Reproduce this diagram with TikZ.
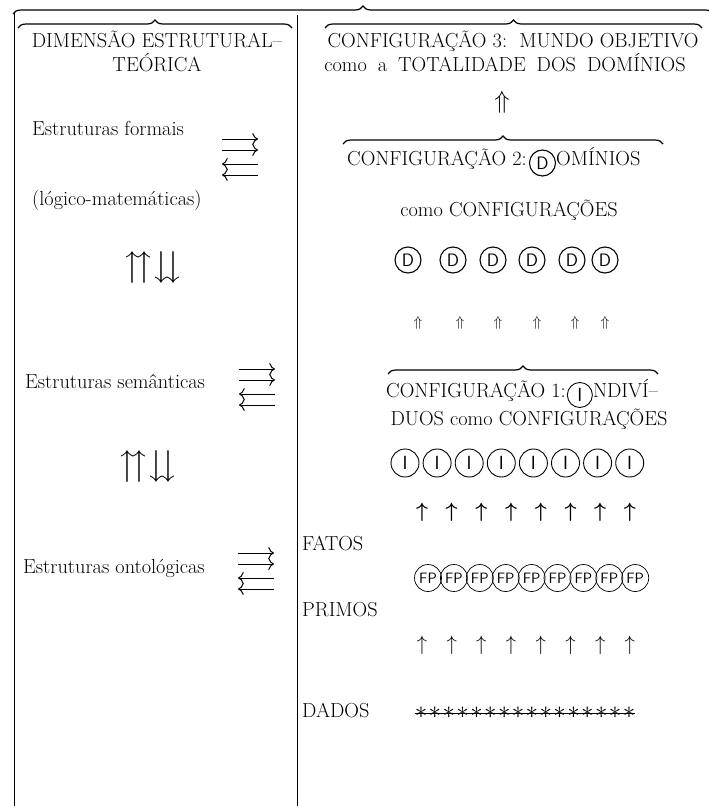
\documentclass[tikz,border=0pt]{standalone}
\usepackage{fontspec}
\usepackage{amsmath,amssymb}
\usetikzlibrary{decorations.pathreplacing,arrows.meta}

\begin{document}
\begin{tikzpicture}[x=1pt,y=-1pt,
  txt/.style={inner sep=0pt, font=\fontsize{20.3}{24}\selectfont, text height=14pt, text depth=4.5pt},
  lbl/.style={txt, anchor=west},
  bigsym/.style={inner sep=0pt, font=\fontsize{36}{36}\selectfont},
  pairarr/.style={line width=1pt, arrows={-Computer Modern Rightarrow[scale=1.5]}},
  ring/.style={circle, draw, line width=0.9pt, inner sep=0pt, minimum size=#1},
  dring/.style={ring=26pt, line width=1.1pt, font=\fontsize{18}{18}\selectfont\sffamily},
  iring/.style={ring=28pt, font=\fontsize{19}{19}\selectfont\sffamily},
  fpring/.style={ring=27pt, line width=0.7pt, font=\fontsize{15}{15}\selectfont\sffamily},
  brc/.style={decorate, decoration={brace, amplitude=8pt}, line width=1.2pt},
  frame/.style={line width=0.7pt},
  % two arrows to the right above two arrows to the left
  arrpair/.pic={
    \coordinate (-l1) at (-18,-18); \coordinate (-r1) at (18,-18);
    \coordinate (-l2) at (-18,-7);  \coordinate (-r2) at (18,-7);
    \coordinate (-l3) at (-18,7);   \coordinate (-r3) at (18,7);
    \coordinate (-l4) at (-18,18);  \coordinate (-r4) at (18,18);
    \draw[pairarr] (-l1) -- (-r1);
    \draw[pairarr] (-l2) -- (-r2);
    \draw[pairarr] (-r3) -- (-l3);
    \draw[pairarr] (-r4) -- (-l4);
  }
]
\useasboundingbox (0,0) rectangle (709,806);

% frame and column divider
\draw[frame] (14,13) -- (14,806);
\draw[frame] (297,15) -- (297,806);

% braces
\draw[brc] (13,14) -- (713,14);
\draw[brc] (18,28) -- (292,28);
\draw[brc] (325,28) -- (702,28);
\draw[brc] (343,144) -- (663,144);
\draw[brc] (388,374) -- (658,374);

% left column
\node[txt] (dim1) at (157,43) {DIMENSÃO ESTRUTURAL–};
\node[txt] (dim2) at (157,67) {TEÓRICA};

\node[lbl] (ef) at (32,131) {Estruturas formais};
\node[lbl] (lm) at (32,201) {(lógico-matemáticas)};
\pic (pr1) at (240,157) {arrpair};
\node[bigsym] (ud1) at (153,268) {$\upuparrows\downdownarrows$};

\node[lbl] (es) at (25,384) {Estruturas semânticas};
\pic (pr2) at (257,387) {arrpair};
\node[bigsym] (ud2) at (148,467) {$\upuparrows\downdownarrows$};

\node[lbl] (eo) at (23,569) {Estruturas ontológicas};
\pic (pr3) at (256,571) {arrpair};

% right column
\node[txt] (c3a) at (513,43) {CONFIGURAÇÃO 3:\ \ MUNDO OBJETIVO};
\node[txt] (c3b) at (505,67) {\spaceskip=11pt plus 1pt como a TOTALIDADE DOS DOMÍNIOS};
\node[inner sep=0pt, font=\fontsize{28}{28}\selectfont] (up3) at (502,102) {$\Uparrow$};

\node[lbl] (c2a) at (347,161) {CONFIGURAÇÃO 2:};
\node[dring, anchor=west] (c2d) at ([xshift=2pt,yshift=-2pt]c2a.east) {D};
\node[lbl] (c2b) at (c2d.east |- c2a.west) {OMÍNIOS};
\node[txt] (c2c) at (509,212) {como CONFIGURAÇÕES};

\foreach \x [count=\i] in {408,453,493,532,572,605}
  \node[dring] (d\i) at (\x,260) {D};
\foreach \x [count=\i] in {418,460,498,537,575,605}
  \node[inner sep=0pt, font=\fontsize{15}{15}\selectfont] (u\i) at (\x,323) {$\Uparrow$};

\node[lbl] (c1a) at (386,393) {CONFIGURAÇÃO 1:};
\node[iring, ring=25pt, anchor=west] (c1i) at ([xshift=1pt,yshift=-2pt]c1a.east) {I};
\node[lbl] (c1b) at (c1i.east |- c1a.west) {NDIVÍ–};
\node[txt] (c1c) at (529,421) {DUOS como CONFIGURAÇÕES};

\foreach \i in {1,...,8}
  \node[iring] (i\i) at ({405+32.1*(\i-1)},463) {I};
\foreach \i in {1,...,8}
  \node[inner sep=0pt, font=\fontsize{22}{22}\selectfont] (ua\i) at ({422+29.7*(\i-1)},512) {$\boldsymbol{\uparrow}$};

\node[lbl] (fatos) at (302,546) {FATOS};
\foreach \i in {1,...,9}
  \node[fpring] (fp\i) at ({428+25.9*(\i-1)},578) {FP};
\node[lbl] (primos) at (302,612) {PRIMOS};
\foreach \i in {1,...,8}
  \node[inner sep=0pt, font=\fontsize{22}{22}\selectfont] (ub\i) at ({422+29.7*(\i-1)},645) {$\uparrow$};

\node[lbl] (dados) at (302,713) {DADOS};
\foreach \i in {1,...,16}
  \node[inner sep=0pt, font=\fontsize{27}{27}\selectfont] (s\i) at ({421+13.87*(\i-1)},713) {$\ast$};
\draw[line width=0.8pt] (s1.west) -- (s16.east);
\end{tikzpicture}
\end{document}
